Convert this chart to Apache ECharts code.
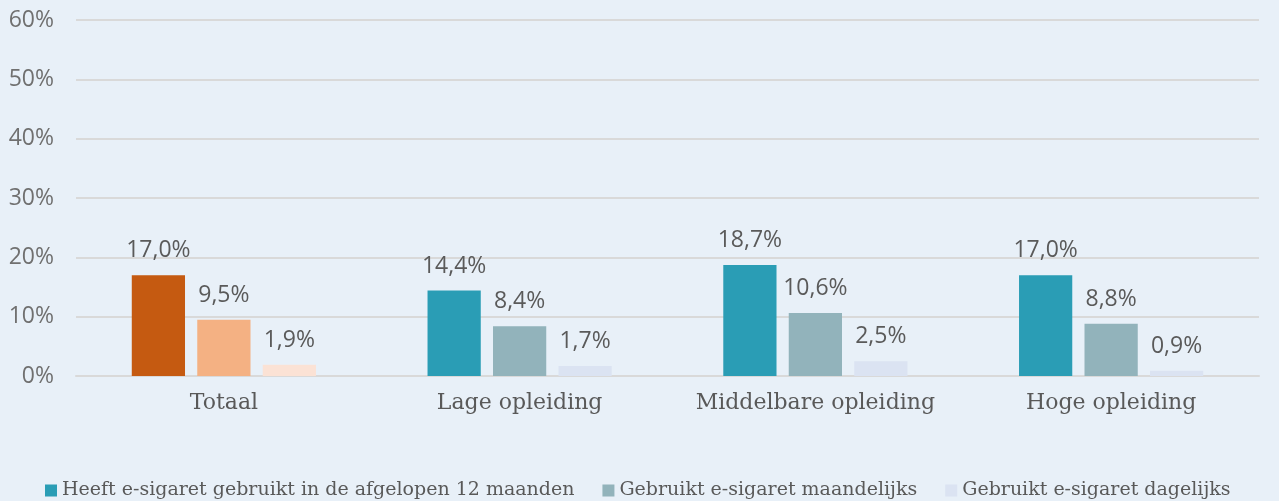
<!DOCTYPE html>
<html>
<head>
<meta charset="utf-8">
<script src="https://cdn.jsdelivr.net/npm/echarts@6/dist/echarts.min.js"></script>
<style>
  html, body { margin: 0; padding: 0; background: #e8f0f8; }
  #chart { width: 1279px; height: 501px; }
</style>
</head>
<body>
<div id="chart"></div>
<script>
// categorieen en waarden (percentages)
const categories = ["Totaal", "Lage opleiding", "Middelbare opleiding", "Hoge opleiding"];
const seriesNames = [
  "Heeft e-sigaret gebruikt in de afgelopen 12 maanden",
  "Gebruikt e-sigaret maandelijks",
  "Gebruikt e-sigaret dagelijks"
];
const jaarValues = [17.0, 14.4, 18.7, 17.0];
const maandValues = [9.5, 8.4, 10.6, 8.8];
const dagValues = [1.9, 1.7, 2.5, 0.9];

// kleuren: totaal in oranje tinten, rest in blauwgroen
const mainColors = ["#2a9db5", "#92b3bb", "#dbe3f2"];
const totaalColors = ["#c55a11", "#f4b183", "#fbe2d5"];

const chart = echarts.init(document.getElementById("chart"));

function makeSeries(name, values, idx) {
  return {
    name: name,
    type: "bar",
    barWidth: "18%",
    barGap: "23%",
    itemStyle: { color: mainColors[idx] },
    label: {
      show: true,
      position: "top",
      distance: 13,
      color: "#5a5a5a",
      fontSize: 23,
      fontFamily: "Open Sans",
      formatter: (p) => p.value.toFixed(1).replace(".", ",") + "%"
    },
    data: values.map((v, i) =>
      i === 0 ? { value: v, itemStyle: { color: totaalColors[idx] } } : v
    )
  };
}

const option = {
  backgroundColor: "#e8f0f8",
  animation: false,
  grid: { left: 76, right: 20, top: 20, bottom: 125 },
  legend: {
    bottom: -4,
    left: 40,
    width: 1270,
    itemWidth: 12,
    itemHeight: 12,
    itemGap: 28,
    icon: "rect",
    textStyle: { color: "#595959", fontSize: 19, fontFamily: "DejaVu Serif" },
    data: seriesNames
  },
  xAxis: {
    type: "category",
    data: categories,
    axisLine: { lineStyle: { color: "#d9d9d9", width: 2 } },
    axisTick: { show: false },
    axisLabel: {
      interval: 0,
      color: "#595959",
      fontSize: 22,
      fontFamily: "DejaVu Serif",
      margin: 16
    }
  },
  yAxis: {
    type: "value",
    min: 0,
    max: 60,
    interval: 10,
    axisLine: { show: false },
    axisTick: { show: false },
    splitLine: { lineStyle: { color: "#d9d9d9", width: 2 } },
    axisLabel: {
      color: "#707070",
      fontSize: 23,
      fontFamily: "Open Sans",
      margin: 22,
      formatter: "{value}%"
    }
  },
  series: [
    makeSeries(seriesNames[0], jaarValues, 0),
    makeSeries(seriesNames[1], maandValues, 1),
    makeSeries(seriesNames[2], dagValues, 2)
  ]
};

chart.setOption(option);
</script>
</body>
</html>
